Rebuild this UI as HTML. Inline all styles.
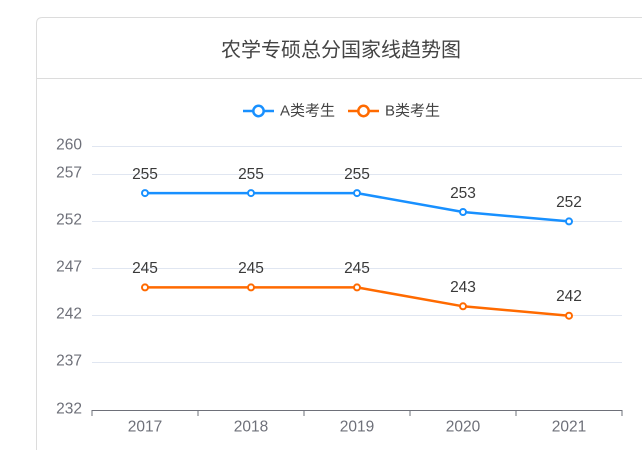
<!DOCTYPE html>
<html>
<head>
<meta charset="utf-8">
<style>
  html,body{margin:0;padding:0;background:#fff;}
  body{width:642px;height:450px;overflow:hidden;}
  svg{display:block;}
  text{font-family:"Liberation Sans","Noto Sans CJK SC",sans-serif;}
</style>
</head>
<body>
<svg width="642" height="450" viewBox="0 0 642 450" xmlns="http://www.w3.org/2000/svg">
  <rect x="0" y="0" width="642" height="450" fill="#fff"/>
  <!-- card -->
  <path d="M36.5 470 L36.5 23.5 Q36.5 17.5 42.5 17.5 L660 17.5" fill="none" stroke="#dcdcdc" stroke-width="1"/>
  <line x1="36.5" y1="78.5" x2="642" y2="78.5" stroke="#dcdcdc" stroke-width="1"/>
  <!-- title -->
  <text x="341" y="48" font-size="20" fill="#444" text-anchor="middle" dominant-baseline="central" style="font-family:'Noto Sans CJK SC','Liberation Sans',sans-serif;">农学专硕总分国家线趋势图</text>

  <!-- legend -->
  <line x1="243" y1="111" x2="274" y2="111" stroke="#1890ff" stroke-width="2.5"/>
  <circle cx="258.5" cy="111" r="5.2" fill="#fff" stroke="#1890ff" stroke-width="2.5"/>
  <text x="280" y="111" font-size="15" fill="#444" dominant-baseline="central">A类考生</text>
  <line x1="348" y1="111" x2="379" y2="111" stroke="#ff6a00" stroke-width="2.5"/>
  <circle cx="363.5" cy="111" r="5.2" fill="#fff" stroke="#ff6a00" stroke-width="2.5"/>
  <text x="385" y="111" font-size="15" fill="#444" dominant-baseline="central">B类考生</text>

  <!-- grid -->
  <g stroke="#e0e6f1" stroke-width="1">
    <line x1="92" y1="146.5" x2="622" y2="146.5"/>
    <line x1="92" y1="174.5" x2="622" y2="174.5"/>
    <line x1="92" y1="221.5" x2="622" y2="221.5"/>
    <line x1="92" y1="268.5" x2="622" y2="268.5"/>
    <line x1="92" y1="315.5" x2="622" y2="315.5"/>
    <line x1="92" y1="362.5" x2="622" y2="362.5"/>
  </g>
  <!-- y labels -->
  <g font-size="15.5" fill="#6e7079" text-anchor="end" dominant-baseline="central">
    <text x="82" y="145">260</text>
    <text x="82" y="173">257</text>
    <text x="82" y="220">252</text>
    <text x="82" y="267">247</text>
    <text x="82" y="314">242</text>
    <text x="82" y="361">237</text>
    <text x="82" y="409">232</text>
  </g>
  <!-- x axis -->
  <line x1="91.5" y1="410.5" x2="622.5" y2="410.5" stroke="#6e7079" stroke-width="1"/>
  <g stroke="#6e7079" stroke-width="1">
    <line x1="92" y1="410" x2="92" y2="416"/>
    <line x1="198" y1="410" x2="198" y2="416"/>
    <line x1="304" y1="410" x2="304" y2="416"/>
    <line x1="410" y1="410" x2="410" y2="416"/>
    <line x1="516" y1="410" x2="516" y2="416"/>
    <line x1="622" y1="410" x2="622" y2="416"/>
  </g>
  <g font-size="15.5" fill="#6e7079" text-anchor="middle" dominant-baseline="central">
    <text x="145" y="427">2017</text>
    <text x="251" y="427">2018</text>
    <text x="357" y="427">2019</text>
    <text x="463" y="427">2020</text>
    <text x="569" y="427">2021</text>
  </g>

  <!-- series A -->
  <polyline points="145,193.1 251,193.1 357,193.1 463,212 569,221.4" fill="none" stroke="#1890ff" stroke-width="2.5" stroke-linejoin="round"/>
  <g fill="#fff" stroke="#1890ff" stroke-width="2">
    <circle cx="145" cy="193.1" r="3"/>
    <circle cx="251" cy="193.1" r="3"/>
    <circle cx="357" cy="193.1" r="3"/>
    <circle cx="463" cy="212" r="3"/>
    <circle cx="569" cy="221.4" r="3"/>
  </g>
  <!-- series B -->
  <polyline points="145,287.4 251,287.4 357,287.4 463,306.3 569,315.7" fill="none" stroke="#ff6a00" stroke-width="2.5" stroke-linejoin="round"/>
  <g fill="#fff" stroke="#ff6a00" stroke-width="2">
    <circle cx="145" cy="287.4" r="3"/>
    <circle cx="251" cy="287.4" r="3"/>
    <circle cx="357" cy="287.4" r="3"/>
    <circle cx="463" cy="306.3" r="3"/>
    <circle cx="569" cy="315.7" r="3"/>
  </g>

  <!-- data labels -->
  <g font-size="15.5" fill="#3a3a3a" text-anchor="middle" dominant-baseline="central">
    <text x="145" y="174.5">255</text>
    <text x="251" y="174.5">255</text>
    <text x="357" y="174.5">255</text>
    <text x="463" y="193.5">253</text>
    <text x="569" y="202.5">252</text>
    <text x="145" y="268.5">245</text>
    <text x="251" y="268.5">245</text>
    <text x="357" y="268.5">245</text>
    <text x="463" y="287.5">243</text>
    <text x="569" y="296.5">242</text>
  </g>
</svg>
</body>
</html>
